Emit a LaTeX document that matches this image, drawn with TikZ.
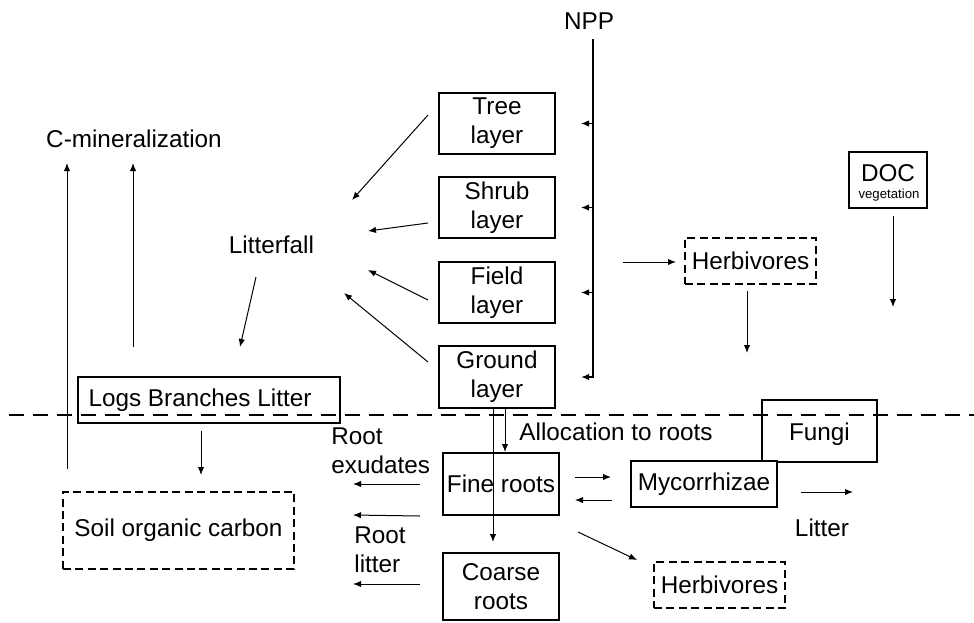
\documentclass[tikz,border=0pt]{standalone}
\usepackage{fontspec}
\setmainfont{Liberation Sans}
\usetikzlibrary{arrows.meta}
\begin{document}
\begin{tikzpicture}[x=0.5pt,y=-0.5pt,
  every node/.style={font=\fontsize{12.15}{14.5}\selectfont, inner sep=0pt},
  box/.style={draw, line width=1pt, align=center},
  dbox/.style={box, dash pattern=on 4pt off 2.2pt},
  flow/.style={-{Latex[length=4pt,width=3.2pt]}, line width=0.5pt},
  soilline/.style={line width=1pt, dash pattern=on 7.5pt off 4.5pt},
]
\useasboundingbox (0,0) rectangle (974,622);

% soil surface
\coordinate (surfL) at (9,414.5);
\coordinate (surfR) at (974,414.5);
\draw[soilline] (surfL) -- (surfR);

% vegetation layers
\node[box, minimum width=58pt, minimum height=30.5pt] (tree)   at (497,123.5) {Tree\\layer};
\node[box, minimum width=58pt, minimum height=30.5pt] (shrub)  at (497,207.5) {Shrub\\layer};
\node[box, minimum width=58pt, minimum height=30.5pt] (field)  at (497,292.5) {Field\\layer};
\node[box, minimum width=58pt, minimum height=31pt]   (ground) at (497,377)   {Ground\\layer};

% roots
\node[box, minimum width=58pt, minimum height=31pt]   (fine)   at (501,484)   {Fine roots};
\node[box, minimum width=58pt, minimum height=33.5pt] (coarse) at (501,586.5) {Coarse\\roots};

% pools
\node[box, minimum width=131pt, minimum height=23pt] (logs) at (209,400) {Logs Branches Litter\hspace{9pt}};
\node[dbox, minimum width=115.5pt, minimum height=38.5pt] (soc) at (178.5,530.5) {Soil organic carbon};
\node[dbox, minimum width=65.5pt, minimum height=23pt] (herbA) at (750.5,261) {Herbivores};
\node[dbox, minimum width=65.5pt, minimum height=23pt] (herbB) at (719.5,585) {Herbivores};
\node[box, minimum width=39pt, minimum height=28pt] (doc) at (888,180) {};
\node (docname) at (888,173) {DOC};
\node[font=\fontsize{6.6}{8}\selectfont] (docsub) at (889,195) {vegetation};
\node[box, minimum width=57.5pt, minimum height=31pt] (fungi) at (819.5,431) {\raisebox{-1.5pt}[\height][\depth]{Fungi}};
\node[box, minimum width=73pt, minimum height=23pt, fill=white] (myco) at (704,484) {Mycorrhizae};

% labels
\node (npp) at (589,21) {NPP};
\node (cmin) at (134,139) {C-mineralization};
\node (litterfall) at (271.5,245) {Litterfall};
\node[anchor=west] (alloc) at (519,432) {Allocation to roots};
\node[anchor=west, align=left] (rootex) at (331,451) {Root\\exudates};
\node[anchor=west, align=left] (rootlit) at (354,550) {Root\\litter};
\node (litter) at (822,528) {Litter};

% NPP distribution
\coordinate (npptop) at (593,39);
\draw[line width=1pt, -{Latex[length=4pt,width=3.2pt]}] (npptop) |- ([xshift=12.5pt]ground.east);
\foreach \n in {tree,shrub,field}
  \draw[flow] (npptop |- \n.east) -- ([xshift=12.5pt]\n.east);

% litterfall from layers
\coordinate (lf1) at (352,200);
\coordinate (lf2) at (368,231);
\coordinate (lf3) at (368,270);
\coordinate (lf4) at (344,293);
\draw[flow] ([xshift=-5pt,yshift=4.25pt]tree.west) -- (lf1);
\draw[flow] ([xshift=-5pt,yshift=-7.75pt]shrub.west) -- (lf2);
\draw[flow] ([xshift=-5pt,yshift=-3.75pt]field.west) -- (lf3);
\draw[flow] ([xshift=-5pt,yshift=7.5pt]ground.west) -- (lf4);

\coordinate (lfs) at (256,277);
\coordinate (lfe) at (240,347);
\draw[flow] (lfs) -- (lfe);

% C mineralization
\coordinate (cm1a) at (67,469);
\coordinate (cm1b) at (67,163);
\coordinate (cm2a) at (133,347);
\coordinate (cm2b) at (133,163);
\draw[flow] (cm1a) -- (cm1b);
\draw[flow] (cm2a) -- (cm2b);

% logs to soil carbon
\draw[flow] ([xshift=-4pt,yshift=-3.5pt]logs.south) -- ([xshift=11.25pt,yshift=8pt]soc.north);

% herbivores above ground
\coordinate (hin) at (623,262);
\draw[flow] (hin) -- ([xshift=-4pt,yshift=-0.5pt]herbA.west);
\coordinate (hout) at (747,353);
\draw[flow] ([xshift=-1.75pt,yshift=-3pt]herbA.south) -- (hout);

% DOC
\coordinate (docout) at (893,307);
\draw[flow] ([xshift=2.5pt,yshift=-3.5pt]doc.south) -- (docout);

% allocation below ground
\draw[flow] ([xshift=-2pt]ground.south) -- ([xshift=-4pt,yshift=5pt]coarse.north);
\draw[flow] ([xshift=4pt]ground.south) -- ([xshift=2pt]fine.north);

% fine roots exchanges
\draw[flow] ([xshift=7.5pt,yshift=3.5pt]fine.east) -- ([xshift=-9.5pt,yshift=3.5pt]myco.west);
\draw[flow] ([xshift=-9pt,yshift=-8pt]myco.west) -- ([xshift=7.5pt,yshift=-8pt]fine.east);
\coordinate (mycoout) at (853,492);
\draw[flow] ([xshift=11.5pt,yshift=-4pt]myco.east) -- (mycoout);
\draw[flow] ([xshift=9pt,yshift=-8pt]fine.south east) -- ([xshift=-8pt,yshift=0.5pt]herbB.north west);

% root exudates and root litter
\coordinate (ex1) at (353,484);
\coordinate (ex2) at (353,515);
\coordinate (ex3) at (353,584);
\draw[flow] ([xshift=-11pt]fine.west) -- (ex1);
\draw[flow] ([xshift=-11pt]fine.south west) -- (ex2);
\draw[flow] ([xshift=-11pt,yshift=1.25pt]coarse.west) -- (ex3);
\end{tikzpicture}
\end{document}
